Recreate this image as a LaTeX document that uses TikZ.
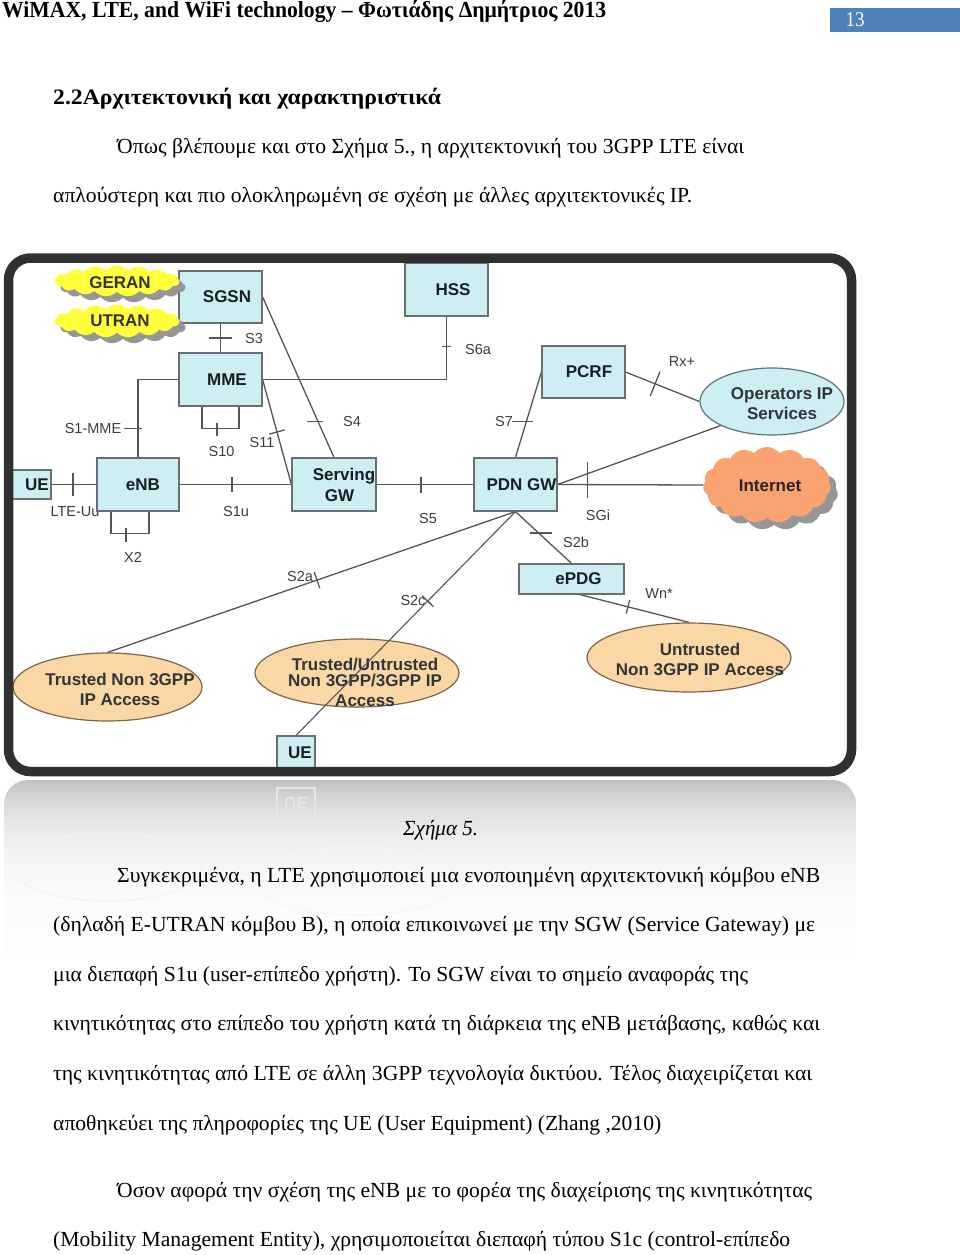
\documentclass[tikz,border=0pt]{standalone}
\usepackage{fontspec}
\setmainfont{Liberation Serif}
\newfontfamily\dsans{Liberation Sans}
\usetikzlibrary{shapes.geometric,shapes.symbols,calc,decorations.markings}
\pgfdeclarelayer{back}\pgfdeclarelayer{bg}\pgfdeclarelayer{front}
\pgfsetlayers{back,bg,main,front}
\definecolor{boxfill}{RGB}{205,238,243}
\definecolor{boxdraw}{RGB}{105,110,112}
\definecolor{boxtext}{RGB}{25,30,35}
\definecolor{ellfill}{RGB}{251,215,165}
\definecolor{elldraw}{RGB}{125,100,75}
\definecolor{opsdraw}{RGB}{95,115,125}
\definecolor{yelcl}{RGB}{255,255,60}
\definecolor{orgcl}{RGB}{250,162,112}
\definecolor{shadowcl}{RGB}{150,150,150}
\definecolor{linecol}{RGB}{85,85,85}
\definecolor{lblcol}{RGB}{60,60,60}
\definecolor{framecol}{RGB}{48,48,48}
\definecolor{pagebl}{RGB}{79,129,189}
\newcommand\bodyfont{\fontsize{21.5}{25}\selectfont}
\newcommand\tline[6]{\node[anchor=base west, inner sep=0pt, font=#5] (#1) at (#2,#3) {\resizebox{#4pt}{\height}{#6}};}
\tikzset{
  box/.style={draw=boxdraw, fill=boxfill, line width=1.2pt, inner sep=0pt,
    font=\dsans\bfseries\fontsize{17}{21}\selectfont, text=boxtext, align=center},
  ell/.style={ellipse, draw=elldraw, fill=ellfill, line width=1.2pt, inner sep=0pt},
  etxt/.style={font=\dsans\bfseries\fontsize{17}{20}\selectfont, text=boxtext!90, align=center, inner sep=0pt},
  cl/.style 2 args={cloud, cloud puffs=#1, cloud puff arc=#2, cloud ignores aspect, inner sep=0pt, draw=none},
  lbl/.style={font=\dsans\fontsize{14.5}{16}\selectfont, text=lblcol, inner sep=0pt},
  conn/.style={draw=linecol, line width=1.3pt},
  tickat/.style 2 args={postaction={decorate, decoration={markings,
      mark=at position #1 with {\draw[conn] (0,-#2) -- (0,#2);}}}}
}
\begin{document}
\begin{tikzpicture}[x=1pt,y=-1pt]
\useasboundingbox (0,0) rectangle (960,1255);
\begin{pgfonlayer}{back}
\fill[white] (0,0) rectangle (960,1255);
\begin{scope}
\clip[rounded corners=24] (4,780) rectangle (856,1100);
\foreach \i in {0,...,59}{
  \pgfmathsetmacro\pp{24*exp(-3*\i/45)}
  \fill[black!\pp] (4,780+3*\i) rectangle (856,783.6+3*\i);
}
\end{scope}
\draw[black!5, line width=1.2pt] (107.5,867) ellipse [x radius=94, y radius=34];
\draw[black!4, line width=1.2pt] (357,881) ellipse [x radius=102, y radius=34];
\node[draw=black!10, line width=1.2pt, minimum width=38, minimum height=30, inner sep=0pt,
  font=\dsans\bfseries\fontsize{17}{19}\selectfont, text=black!10] (ueref) at (296,803) {\scalebox{1}[-1]{UE}};
\end{pgfonlayer}

% header and text
\tline{hdr}{2}{18}{604}{\fontsize{23}{26}\selectfont\bfseries}{WiMAX, LTE, and WiFi technology – Φωτιάδης Δημήτριος 2013}
\node[fill=pagebl, minimum width=130, minimum height=24, anchor=north west, inner sep=0pt] (pbox) at (830,8) {};
\node[text=white, font=\fontsize{21}{24}\selectfont, inner sep=0pt, anchor=base] (pnum) at (855,27) {\resizebox{19pt}{\height}{13}};
\tline{head}{53}{104}{388}{\fontsize{22}{25}\selectfont\bfseries}{2.2Αρχιτεκτονική και χαρακτηριστικά}
\tline{p1}{117}{153}{627}{\bodyfont}{Όπως βλέπουμε και στο Σχήμα 5., η αρχιτεκτονική του 3GPP LTE είναι}
\tline{p2}{53}{202}{639}{\bodyfont}{απλούστερη και πιο ολοκληρωμένη σε σχέση με άλλες αρχιτεκτονικές IP.}
\tline{cap}{403}{835}{75}{\bodyfont\itshape}{Σχήμα 5.}
\tline{p3}{117}{882}{703}{\bodyfont}{Συγκεκριμένα, η LTE χρησιμοποιεί μια ενοποιημένη αρχιτεκτονική κόμβου eNB}
\tline{p4}{53}{931}{762}{\bodyfont}{(δηλαδή E-UTRAN κόμβου B), η οποία επικοινωνεί με την SGW (Service Gateway) με}
\tline{p5}{53}{981}{695}{\bodyfont}{μια διεπαφή S1u (user-επίπεδο χρήστη). Το SGW είναι το σημείο αναφοράς της}
\tline{p6}{53}{1030}{767}{\bodyfont}{κινητικότητας στο επίπεδο του χρήστη κατά τη διάρκεια της eNB μετάβασης, καθώς και}
\tline{p7}{53}{1080}{759}{\bodyfont}{της κινητικότητας από LTE σε άλλη 3GPP τεχνολογία δικτύου. Τέλος διαχειρίζεται και}
\tline{p8}{53}{1130}{608}{\bodyfont}{αποθηκεύει της πληροφορίες της UE (User Equipment) (Zhang ,2010)}
\tline{p9}{117}{1197}{695}{\bodyfont}{Όσον αφορά την σχέση της eNB με το φορέα της διαχείρισης της κινητικότητας}
\tline{p10}{53}{1246}{737}{\bodyfont}{(Mobility Management Entity), χρησιμοποιείται διεπαφή τύπου S1c (control-επίπεδο}

% boxes
\node[box, minimum width=83, minimum height=52] (sgsn) at (220.5,297) {\hspace*{13pt}SGSN};
\node[box, minimum width=83, minimum height=53] (hss) at (446.5,289.5) {\hspace*{13pt}HSS};
\node[box, minimum width=83, minimum height=53] (mme) at (220.5,379.5) {\hspace*{13pt}MME};
\node[box, minimum width=83, minimum height=52] (pcrf) at (583.5,372) {\hspace*{11pt}PCRF};
\node[box, minimum width=42, minimum height=29] (ue1) at (30,484.5) {\hspace*{14pt}UE};
\node[box, minimum width=82, minimum height=53] (enb) at (138,484.5) {\hspace*{10pt}eNB};
\node[box, minimum width=84, minimum height=53] (sgw) at (334,484.5) {\hspace*{20pt}Serving\\\hspace*{11pt}GW};
\node[box, minimum width=83, minimum height=53] (pdn) at (515.5,484.5) {\hspace*{12pt}PDN GW};
\node[box, minimum width=105, minimum height=30] (epdg) at (571.5,579) {\hspace*{14pt}ePDG};
\node[box, minimum width=38, minimum height=34] (ue2) at (296,753) {\hspace*{8pt}UE};

% ellipses
\node[ell, fill=boxfill, draw=opsdraw, minimum width=144, minimum height=67] (ops) at (772,401.5) {};
\node[etxt] (opst) at (782,404) {Operators IP\\Services};
\node[ell, minimum width=189, minimum height=68] (trust1) at (107.5,687) {};
\node[etxt] (trust1t) at (120,689) {Trusted Non 3GPP\\IP Access};
\node[ell, minimum width=204, minimum height=68] (trust2) at (357,673) {};
\node[etxt] (trust2t) at (365,682) {Trusted/Untrusted\\[-4pt]Non 3GPP/3GPP IP\\Access};
\node[ell, minimum width=204, minimum height=69] (untr) at (689,657.5) {};
\node[etxt] (untrt) at (700,659) {Untrusted\\Non 3GPP IP Access};

% clouds
\node[cl={17}{95}, minimum width=125, minimum height=31, fill=shadowcl] (geransh) at (123,287) {};
\node[cl={17}{95}, minimum width=125, minimum height=31, fill=yelcl] (geran) at (117,281) {};
\node[etxt, text=black!80] (gerant) at (120,283) {GERAN};
\node[cl={17}{95}, minimum width=125, minimum height=33, fill=shadowcl] (utransh) at (123,327) {};
\node[cl={17}{95}, minimum width=125, minimum height=33, fill=yelcl] (utran) at (117,321) {};
\node[etxt, text=black!80] (utrant) at (120,321) {UTRAN};
\node[cl={15}{100}, minimum width=128, minimum height=76, fill=shadowcl] (inetsh) at (774,492) {};
\node[cl={15}{100}, minimum width=128, minimum height=76, fill=orgcl] (inet) at (767,485) {};
\node[etxt, text=black!85] (inett) at (770,486) {Internet};

\begin{pgfonlayer}{bg}
% S3
\draw[conn] (sgsn.south) -- (mme.north);
\draw[conn] ($(sgsn.south)!0.5!(mme.north)$) +(-11.5,0) -- +(11.5,0);
\node[lbl] (ls3) at (254,339) {S3};
% S6a
\draw[conn] (mme.east) -| (hss.south);
\draw[conn] ($(hss.south)+(0,30)$) +(-4.5,0) -- +(4.5,0);
\node[lbl] (ls6a) at (478,350) {S6a};
% S1-MME
\draw[conn] (mme.west) -| (enb.north);
\draw[conn] ($(enb.north)+(0,-29)$) +(-14,0) -- +(4,0);
\node[lbl] (ls1mme) at (93,429) {S1-MME};
% S10
\draw[conn] ([xshift=-18.5pt]mme.south) -- ++(0,22) -| ([xshift=18.5pt]mme.south);
\draw[conn] ($(mme.south)+(-3.5,16)$) -- ++(0,13);
\node[lbl] (ls10) at (221.5,452) {S10};
% S11
\draw[conn, tickat={0.5}{8}] (mme.east) -- (sgw.west);
\node[lbl] (ls11) at (262,443) {S11};
% S4
\draw[conn] (sgsn.east) -- (sgw.north);
\draw[conn] ($(sgsn.east)!0.776!(sgw.north)$) +(-11,0) -- +(5,0);
\node[lbl] (ls4) at (352,422) {S4};
% LTE-Uu
\draw[conn] (ue1.east) -- (enb.west);
\draw[conn] ($(ue1.east)!0.48!(enb.west)$) +(0,-11.5) -- +(0,11.5);
\node[lbl] (llte) at (75,512) {LTE-Uu};
% X2
\draw[conn] ([xshift=-27pt]enb.south) -- ++(0,22) -| ([xshift=11pt]enb.south);
\draw[conn] ($(enb.south)+(-12,16)$) -- ++(0,14);
\node[lbl] (lx2) at (133,557) {X2};
% S1u
\draw[conn] (enb.east) -- (sgw.west);
\draw[conn] ($(enb.east)!0.469!(sgw.west)$) +(0,-7.5) -- +(0,7.5);
\node[lbl] (ls1u) at (236,512) {S1u};
% S5
\draw[conn] (sgw.east) -- (pdn.west);
\draw[conn] ($(sgw.east)!0.459!(pdn.west)$) +(0,-8) -- +(0,8);
\node[lbl] (ls5) at (428,519) {S5};
% S7
\draw[conn] (pdn.north) -- (pcrf.west);
\draw[conn] ($(pdn.north)!0.419!(pcrf.west)$) +(-14,0) -- +(7,0);
\node[lbl] (ls7) at (504,422) {S7};
% Rx+
\draw[conn, tickat={0.4}{13}] (pcrf.east) -- (ops.west);
\node[lbl] (lrx) at (682,362) {Rx+};
% PDN GW - Operators
\draw[conn] (pdn.east) -- (ops.south west);
% SGi
\draw[conn] (pdn.east) -- (inet.west);
\draw[conn] ($(pdn.east)+(30,0)$) +(0,-23) -- +(0,13);
\node[lbl] (lsgi) at (598,515) {SGi};
% S2b
\draw[conn] (pdn.south) -- (epdg.north);
\draw[conn] ($(pdn.south)!0.415!(epdg.north)$) +(-9,0) -- +(13,0);
\node[lbl] (ls2b) at (576,542) {S2b};
% Wn*
\draw[conn, tickat={0.44}{7}] ([xshift=8.5pt]epdg.south) -- (untr.north);
\node[lbl] (lwn) at (659,594) {Wn*};
% S2a
\draw[conn, tickat={0.4865}{8.5}] (pdn.south) -- (trust1.north);
\node[lbl] (ls2a) at (300,577) {S2a};
\node[lbl] (ls2c) at (413,601) {S2c};
\end{pgfonlayer}
% S2c over the ellipse
\draw[conn, line width=1.1pt, tickat={0.4}{8}] (pdn.south) -- (ue2.north);

\begin{pgfonlayer}{front}
\draw[framecol, line width=9.5pt, rounded corners=22pt] (8.5,258) rectangle (851.5,771.5);
\end{pgfonlayer}
\end{tikzpicture}
\end{document}
